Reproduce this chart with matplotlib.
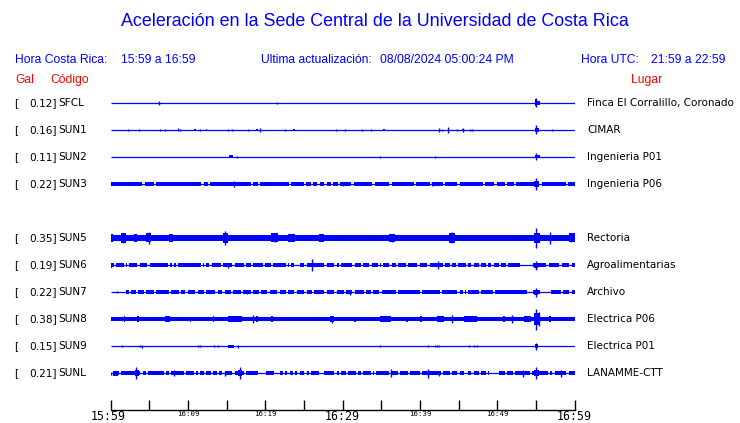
import matplotlib
matplotlib.use("Agg")
import matplotlib.pyplot as plt

# estaciones, de arriba hacia abajo (SUN4 sin datos)
codes = ["SFCL", "SUN1", "SUN2", "SUN3", "SUN4", "SUN5", "SUN6", "SUN7", "SUN8", "SUN9", "SUNL"]
gal = [0.12, 0.16, 0.11, 0.22, None, 0.35, 0.19, 0.22, 0.38, 0.15, 0.21]
places = ["Finca El Corralillo, Coronado", "CIMAR", "Ingenieria P01", "Ingenieria P06", "",
          "Rectoria", "Agroalimentarias", "Archivo", "Electrica P06", "Electrica P01", "LANAMME-CTT"]

# tiempo en minutos desde 15:59, amplitud en pixeles (media altura)
band_amp = [0, 0, 0, 1.7, 0, 3.0, 1.9, 1.7, 2.2, 0, 1.9]
band_start = [0, 0, 0, 0.1, 0, 0, 0, 2.0, 0, 0, 0]

gaps = [
    [], [], [],
    [4.23, 5.74, 11.87, 12.73, 18.26, 19.21, 23.2, 25.1, 26.0, 26.9, 27.8, 28.6, 29.5, 31.3, 34.0,
     36.2, 39.4, 41.4, 43.1, 45.0, 48.3, 49.8, 51.1, 52.3, 55.6, 59.0],
    [],
    [],
    [0.56, 1.85, 2.2, 3.6, 4.9, 7.5, 8.1, 8.6, 11.8, 12.2, 12.9, 14.4, 15.9, 17.4, 18.3, 19.8, 20.85,
     22.8, 23.2, 23.9, 24.3, 25.2, 27.8, 29.1, 29.7, 31.4, 32.5, 33.6, 34.7, 35.1, 36.2, 37.0, 38.3,
     39.8, 41.1, 43.1, 44.0, 44.8, 46.1, 46.8, 47.8, 48.7, 49.4, 50.4, 51.3, 56.5, 58.2, 59.5],
    [2.5, 3.4, 4.4, 5.7, 7.7, 9.0, 9.8, 11.1, 12.2, 13.7, 14.6, 15.7, 17.0, 18.3, 19.3, 20.4, 21.7,
     22.8, 23.9, 25.2, 26.2, 27.8, 29.1, 30.35, 31.4, 32.9, 33.8, 34.9, 37.0, 40.1, 42.7, 45.0, 45.7,
     46.1, 47.8, 49.6, 58.4, 59.5],
    [],
    [],
    [0.2, 1.2, 4.0, 4.7, 7.0, 7.7, 9.6, 10.9, 11.4, 12.2, 13.1, 13.9, 14.6, 15.9, 17.4, 20.0, 21.3,
     21.7, 22.4, 23.0, 23.7, 24.3, 25.2, 25.8, 29.1, 29.7, 30.6, 31.9, 32.5, 33.8, 34.2, 36.2, 37.3,
     38.6, 40.1, 42.9, 44.0, 45.0, 46.8, 47.8, 48.7, 51.1, 52.2, 54.4, 56.7, 57.3, 59.1],
]

quiet = [[], [], [], [], [], [], [(53.0, 54.6)], [(53.9, 54.6), (55.6, 56.9)], [], [],
         [(19.1, 19.8), (27.0, 27.6), (45.7, 46.2), (48.9, 50.2)]]

bursts = [
    [(54.85, 55.2, 3.5), (55.2, 55.55, 2)],
    [(10.8, 11.0, 1.3), (12.3, 12.5, 1.3), (18.85, 19.1, 1.3), (23.55, 23.9, 1.3), (35.2, 35.5, 1.3),
     (45.4, 45.7, 1.3), (54.9, 55.4, 2)],
    [(15.3, 15.8, 1.5), (54.9, 55.5, 1.5)],
    [(54.8, 55.4, 3)],
    [],
    [(0, 0.3, 4), (1.3, 2.0, 5), (3.0, 3.4, 4), (4.6, 5.2, 4.5), (7.5, 8.0, 4), (14.5, 15.2, 5),
     (20.8, 21.6, 4.5), (23.0, 23.8, 4), (27.0, 27.6, 4), (36.0, 36.8, 4), (43.8, 44.6, 5),
     (54.8, 55.6, 5), (59.3, 60, 4.5)],
    [(0, 0.2, 2.5), (54.8, 55.3, 2.5)],
    [(54.8, 55.3, 2.5)],
    [(1.7, 1.9, 3), (3.4, 3.6, 3), (7.0, 7.7, 3), (10.3, 10.4, 2.5), (13.2, 13.4, 3), (15.2, 17.0, 3.2),
     (18.8, 19.0, 3), (20.8, 21.0, 3), (25.6, 25.7, 2.5), (28.4, 28.9, 3.2), (31.5, 31.7, 2.5),
     (34.9, 36.2, 3), (38.2, 38.4, 2.5), (40.0, 40.3, 3), (42.2, 43.1, 3), (45.7, 47.4, 3),
     (50.8, 51.0, 3), (53.5, 54.4, 3), (54.8, 55.6, 6), (56.7, 56.9, 3)],
    [(15.2, 15.9, 1.5), (54.9, 55.3, 2)],
    [(0.3, 0.9, 2.5), (3.1, 3.6, 3), (16.5, 17.0, 3), (54.8, 55.4, 3)],
]

spikes = [
    [(6.3, 1.7), (21.5, 1), (55.0, 4.5)],
    [(2.3, 1), (3.6, 1), (6.4, 1), (7.0, 1), (8.7, 1.5), (9.0, 1.2), (11.6, 1.2), (15.2, 1), (15.75, 1),
     (17.8, 0.8), (19.3, 2), (22.5, 1.2), (29.2, 1.3), (30.35, 1), (32.5, 0.8), (33.7, 1.2), (42.5, 2.2),
     (42.8, 1.2), (43.6, 2.8), (44.8, 1.3), (45.55, 2), (46.5, 1.2), (46.7, 1), (55.05, 4.5), (57.1, 1.2)],
    [(16.4, 1), (34.8, 0.8), (42.0, 1), (55.05, 3.5)],
    [(0.1, 1.5), (16.0, 2.8), (30.0, 1.8), (41.6, 1.8), (55.0, 6)],
    [],
    [(1.64, 5), (5.0, 6), (14.8, 7), (21.3, 4.5), (36.4, 4), (44.2, 5.5), (55.0, 10), (56.8, 6), (59.5, 4.5)],
    [(15.2, 2.5), (26.1, 6), (42.4, 4), (55.0, 4.5)],
    [(0.8, 1), (17.6, 2), (31.0, 2.5), (55.0, 4.5)],
    [(18.35, 4), (28.6, 3.5), (44.2, 4), (51.9, 4), (55.0, 10.5), (55.4, 7)],
    [(1.4, 1), (3.8, 1), (4.0, 1.5), (11.3, 1), (11.6, 1), (13.3, 1), (13.85, 1), (16.5, 1.5), (34.8, 1),
     (41.1, 1), (41.9, 1), (42.2, 1), (42.5, 1), (46.3, 1), (47.0, 1), (47.4, 1), (55.0, 3.5)],
    [(0.0, 1.5), (3.3, 6), (8.2, 3), (14.8, 2.5), (16.75, 6), (36.3, 4), (41.1, 4.5), (42.5, 2.5),
     (53.4, 3.5), (55.0, 6), (58.2, 3.5)],
]

tick_min = list(range(0, 61, 5))
tick_lbl = ["15:59", "", "16:09", "", "16:19", "", "16:29", "", "16:39", "", "16:49", "", "16:59"]

BLUE = "#0000ff"
RED = "#ff0000"
W, H = 740, 423
ROW = 27
GAP_W = 0.3


def px(x, y):
    return x / W, 1 - y / H


fig = plt.figure(figsize=(W / 100, H / 100), dpi=100)

# ejes de las trazas, en pixeles verticales relativos a la primera fila (y=103)
x0, x1 = 110.7, 574.5
ytop, ybot = 90, 410
ax = fig.add_axes([x0 / W, 1 - ybot / H, (x1 - x0) / W, (ybot - ytop) / H])
ax.set_xlim(0, 60)
ax.set_ylim(ybot - 103, ytop - 103)
for s in ["top", "left", "right"]:
    ax.spines[s].set_visible(False)
ax.spines["bottom"].set_linewidth(1)
ax.set_yticks([])
ax.set_xticks(tick_min)
ax.set_xticklabels([])
ax.tick_params(axis="x", direction="in", length=7, width=1, pad=0)

for i, code in enumerate(codes):
    if gal[i] is None:
        continue
    yc = i * ROW
    ax.plot([0, 60.1], [yc, yc], color=BLUE, lw=0.9, solid_capstyle="butt")
    if band_amp[i] > 0:
        cuts = sorted([(g - GAP_W / 2, g + GAP_W / 2) for g in gaps[i]] + quiet[i])
        segs = []
        t = band_start[i]
        for a, b in cuts:
            if a > t:
                segs.append((t, a - t))
            t = max(t, b)
        segs.append((t, 60.1 - t))
        ax.broken_barh(segs, (yc - band_amp[i], 2 * band_amp[i]), facecolors=BLUE, edgecolors="none")
    if bursts[i]:
        for a, b, amp in bursts[i]:
            ax.broken_barh([(a, b - a)], (yc - amp, 2 * amp), facecolors=BLUE, edgecolors="none")
    if spikes[i]:
        ts = [s[0] for s in spikes[i]]
        am = [s[1] for s in spikes[i]]
        ax.vlines(ts, [yc - a for a in am], [yc + a for a in am], color=BLUE, lw=1)

    # etiquetas
    fx, fy = px(14.5, 103 + yc)
    fig.text(fx, fy, "[", fontsize=7.6, va="center", ha="left")
    fx, fy = px(56.5, 103 + yc)
    fig.text(fx, fy, "%.2f]" % gal[i], fontsize=7.6, va="center", ha="right")
    fx, fy = px(58.5, 103 + yc)
    fig.text(fx, fy, code, fontsize=7.6, va="center", ha="left")
    fx, fy = px(587, 103 + yc)
    fig.text(fx, fy, places[i], fontsize=7.5, va="center", ha="left")

# etiquetas de tiempo
for m, lbl in zip(tick_min, tick_lbl):
    if not lbl:
        continue
    big = m % 30 == 0
    xx = x0 + (x1 - x0) * m / 60
    if m == 0:
        xx -= 3
    fx, fy = px(xx, 416 if big else 414)
    fig.text(fx, fy, lbl, family="DejaVu Sans Mono", fontsize=8.4 if big else 5.3,
             ha="center", va="center")

sans = ["Liberation Sans", "DejaVu Sans"]
fig.text(*px(375, 22), "Aceleración en la Sede Central de la Universidad de Costa Rica",
         family=sans, fontsize=12.9, color=BLUE, ha="center", va="center")
fig.text(*px(15, 60), "Hora Costa Rica:", family=sans, fontsize=8.7, color=BLUE, va="center")
fig.text(*px(120.7, 60), "15:59 a 16:59", family=sans, fontsize=8.7, color=BLUE, va="center")
fig.text(*px(260.7, 60), "Ultima actualización:", family=sans, fontsize=8.7, color=BLUE, va="center")
fig.text(*px(380, 60), "08/08/2024 05:00:24 PM", family=sans, fontsize=8.7, color=BLUE, va="center")
fig.text(*px(580.7, 60), "Hora UTC:", family=sans, fontsize=8.7, color=BLUE, va="center")
fig.text(*px(650.7, 60), "21:59 a 22:59", family=sans, fontsize=8.7, color=BLUE, va="center")
fig.text(*px(15, 80), "Gal", family=sans, fontsize=8.7, color=RED, va="center")
fig.text(*px(50, 80), "Código", family=sans, fontsize=8.7, color=RED, va="center")
fig.text(*px(630.7, 80), "Lugar", family=sans, fontsize=8.7, color=RED, va="center")

fig.savefig("out.png", dpi=100)
